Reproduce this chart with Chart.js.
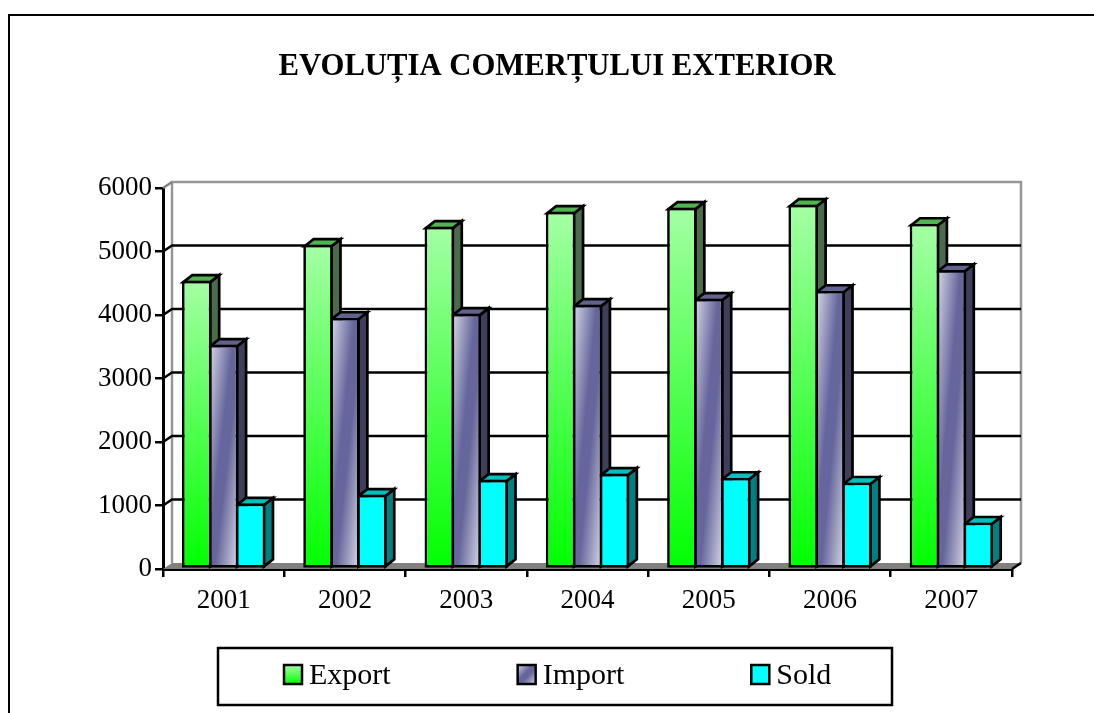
<!DOCTYPE html>
<html lang="ro">
<head>
    <meta charset="UTF-8">
    <title>Evoluția comerțului exterior</title>
    <script src="https://cdn.jsdelivr.net/npm/chart.js"></script>
    <style>
        html, body { margin: 0; padding: 0; background: #fff; overflow: hidden; }
        #frame { position: absolute; left: 8px; top: 14px; right: 0; bottom: 0; border-left: 2px solid #000; border-top: 2px solid #000; }
        #myChart { position: absolute; left: 0; top: 0; }
    </style>
</head>
<body>
    <div id="frame"></div>
    <canvas id="myChart" width="1094" height="713"></canvas>

    <script>
        const years = ['2001', '2002', '2003', '2004', '2005', '2006', '2007'];
        const exportValues = [4540, 5105, 5390, 5625, 5690, 5735, 5435];
        const importValues = [3530, 3955, 4020, 4160, 4255, 4380, 4710];
        const soldValues = [1030, 1170, 1405, 1500, 1435, 1360, 730];

        const serif = "'Liberation Serif', 'Times New Roman', serif";
        const barGroup = 0.665;
        const barOverlap = 1.1; // neighbouring bars share one border line
        const barBorder = 2.7;
        const wallDepth = { x: 9, y: 6 };
        const barDepth = { x: 9, y: 7 };

        function exportFill(ctx, top, bottom) {
            const g = ctx.createLinearGradient(0, top, 0, bottom);
            g.addColorStop(0, '#a4ffa4');
            g.addColorStop(1, '#00ff00');
            return g;
        }

        // stripe runs from the top right corner to the bottom left one
        function importFill(ctx, left, top, w, h) {
            const k = 2 * w * h / (h * h + w * w);
            const g = ctx.createLinearGradient(left, top, left + k * h, top + k * w);
            g.addColorStop(0, '#d4d4e4');
            g.addColorStop(0.42, '#66669c');
            g.addColorStop(0.58, '#66669c');
            g.addColorStop(1, '#d4d4e4');
            return g;
        }

        function scriptedFill(c) {
            const chart = c.chart;
            if (!chart.chartArea) return '#888';
            const xs = chart.scales.x;
            const ys = chart.scales.y;
            const top = ys.getPixelForValue(c.raw);
            const bottom = ys.getPixelForValue(0);
            if (c.datasetIndex === 0) return exportFill(chart.ctx, top, bottom);
            const w = xs.width / years.length * barGroup / 3;
            const left = xs.getPixelForValue(c.dataIndex) - w / 2;
            return importFill(chart.ctx, left, top, w, bottom - top);
        }

        function poly(ctx, pts, fill, stroke, width) {
            ctx.beginPath();
            pts.forEach((p, i) => i ? ctx.lineTo(p[0], p[1]) : ctx.moveTo(p[0], p[1]));
            ctx.closePath();
            ctx.fillStyle = fill;
            ctx.fill();
            if (stroke) {
                ctx.strokeStyle = stroke;
                ctx.lineWidth = width;
                ctx.stroke();
            }
        }

        function line(ctx, pts, color, width) {
            ctx.beginPath();
            pts.forEach((p, i) => i ? ctx.lineTo(p[0], p[1]) : ctx.moveTo(p[0], p[1]));
            ctx.strokeStyle = color;
            ctx.lineWidth = width;
            ctx.stroke();
        }

        // back walls, floor and the side/top faces of the bars
        const depthPlugin = {
            id: 'depth',
            beforeDraw(chart) {
                // wide tick labels would be clipped to the narrow axis box
                chart.scales.y.left = chart.scales.y.right - 80;
            },
            beforeDatasetsDraw(chart) {
                const ctx = chart.ctx;
                const { left, right, top, bottom } = chart.chartArea;
                const ys = chart.scales.y;
                const dx = wallDepth.x, dy = wallDepth.y;
                ctx.save();
                ctx.lineJoin = 'miter';
                poly(ctx, [[left, bottom], [right, bottom], [right + dx, bottom - dy], [left + dx, bottom - dy]], '#808080');
                line(ctx, [[left + dx, bottom - dy], [left + dx, top - dy], [right + dx, top - dy], [right + dx, bottom - dy]], '#969696', 2.5);
                line(ctx, [[right + dx, bottom - dy], [right, bottom]], '#000', 2.5);
                line(ctx, [[left, top], [left + dx, top - dy]], '#808080', 2.5);
                ys.ticks.forEach(t => {
                    if (t.value === ys.min || t.value === ys.max) return;
                    const y = ys.getPixelForValue(t.value);
                    line(ctx, [[left, y], [left + dx, y - dy], [right + dx, y - dy]], '#000', 2.5);
                });
                const faces = [
                    { side: '#4b6b4b', cap: '#50b450' },
                    { side: '#3f3f5c', cap: '#62628f' },
                    { side: '#008080', cap: '#00c0c0' }
                ];
                chart.data.datasets.forEach((ds, i) => {
                    chart.getDatasetMeta(i).data.forEach(el => {
                        const inset = barBorder / 2;
                        const x0 = el.x - el.width / 2 + inset, x1 = el.x + el.width / 2 - inset;
                        const y0 = el.y + inset, y1 = el.base - inset;
                        const bx = barDepth.x, by = barDepth.y;
                        poly(ctx, [[x1, y0], [x1 + bx, y0 - by], [x1 + bx, y1 - by], [x1, y1]], faces[i].side, '#000', barBorder);
                        poly(ctx, [[x0, y0], [x0 + bx, y0 - by], [x1 + bx, y0 - by], [x1, y0]], faces[i].cap, '#000', barBorder);
                    });
                });
                ctx.restore();
            }
        };

        // legend has equal gaps between entries and a narrow box/text gap, so it is drawn here
        const legendPlugin = {
            id: 'boxedLegend',
            afterDraw(chart) {
                const ctx = chart.ctx;
                ctx.save();
                ctx.fillStyle = '#fff';
                ctx.strokeStyle = '#000';
                ctx.lineWidth = 2.5;
                ctx.fillRect(218, 648, 674, 57);
                ctx.strokeRect(218, 648, 674, 57);
                ctx.font = '30px ' + serif;
                ctx.textBaseline = 'alphabetic';
                let x = 284;
                chart.data.datasets.forEach((ds, i) => {
                    let fill = '#00ffff';
                    if (i === 0) fill = exportFill(ctx, 665, 684);
                    if (i === 1) fill = importFill(ctx, x, 665, 18, 19);
                    ctx.fillStyle = fill;
                    ctx.fillRect(x, 665, 18, 19);
                    ctx.strokeRect(x, 665, 18, 19);
                    ctx.fillStyle = '#000';
                    ctx.fillText(ds.label, x + 25, 684);
                    x += 25 + ctx.measureText(ds.label).width + 127;
                });
                ctx.restore();
            }
        };

        const myChart = new Chart(document.getElementById('myChart'), {
            type: 'bar',
            plugins: [depthPlugin, legendPlugin],
            data: {
                labels: years,
                datasets: [
                    { label: 'Export', data: exportValues },
                    { label: 'Import', data: importValues },
                    { label: 'Sold', data: soldValues, backgroundColor: '#00ffff' }
                ]
            },
            options: {
                responsive: false,
                animation: false,
                layout: { padding: { left: 102, right: 82, top: 0, bottom: 0 } },
                datasets: {
                    bar: {
                        categoryPercentage: barGroup,
                        barPercentage: barOverlap,
                        borderColor: '#000',
                        borderWidth: barBorder,
                        borderSkipped: false,
                        backgroundColor: scriptedFill
                    }
                },
                plugins: {
                    legend: { display: false },
                    tooltip: { enabled: false },
                    title: {
                        display: true,
                        text: 'EVOLUȚIA COMERȚULUI EXTERIOR',
                        color: '#000',
                        font: { family: serif, size: 30.7, weight: 'bold', lineHeight: 1.2 },
                        padding: { top: 49, bottom: 102.2 }
                    }
                },
                scales: {
                    x: {
                        afterFit(scale) { scale.height = 144; },
                        grid: { offset: true, drawOnChartArea: false, color: '#000', lineWidth: 2.5, tickLength: 8 },
                        border: { color: '#000', width: 3 },
                        ticks: { color: '#000', padding: 8, font: { family: serif, size: 27 } }
                    },
                    y: {
                        min: 0,
                        max: 6000,
                        afterFit(scale) { scale.width = 61; },
                        grid: { drawOnChartArea: false, color: '#000', lineWidth: 2.5, tickLength: 8 },
                        border: { color: '#000', width: 3 },
                        ticks: { stepSize: 1000, color: '#000', padding: 3, font: { family: serif, size: 27 }, callback: v => String(v) }
                    }
                }
            }
        });
    </script>
</body>
</html>
